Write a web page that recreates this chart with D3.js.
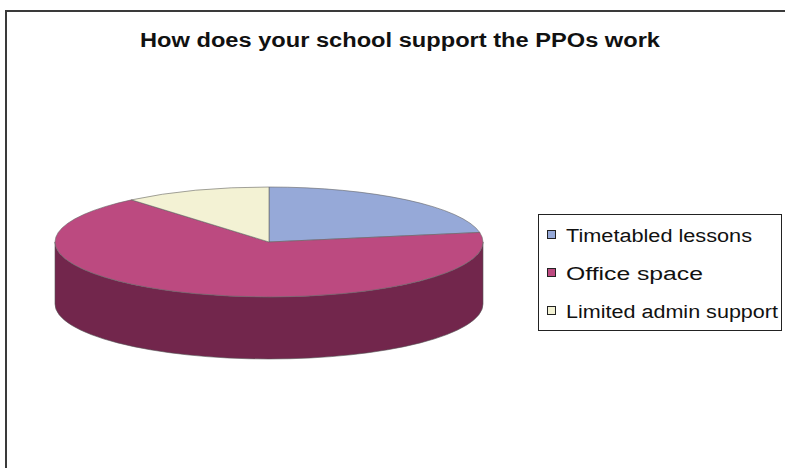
<!DOCTYPE html>
<html>
<head>
<meta charset="utf-8">
<script src="https://cdn.jsdelivr.net/npm/d3@7"></script>
<style>
  html, body { margin: 0; padding: 0; background: #fff; }
  svg { display: block; }
  text { font-family: "Liberation Sans", Arial, sans-serif; }
</style>
</head>
<body>
<script>
// Survey answers: how schools support the PPOs' work
const categories = ["Timetabled lessons", "Office space", "Limited admin support"];
const responses = [2, 6, 1];
const topColors = ["#96A9D8", "#BC4A80", "#F3F2D4"];
const sideColors = ["#5E6E99", "#72264C", "#B5B49A"];
const chartTitle = "How does your school support the PPOs work";

const W = 785, H = 468;
const svg = d3.select("body").append("svg").attr("width", W).attr("height", H);

// outer chart frame (runs off the right and bottom edges)
svg.append("rect")
  .attr("x", 6).attr("y", 11).attr("width", W + 20).attr("height", H + 20)
  .attr("fill", "#fff").attr("stroke", "#3a3a3a").attr("stroke-width", 2);

svg.append("text")
  .attr("x", 400).attr("y", 47)
  .attr("text-anchor", "middle")
  .attr("font-size", 20).attr("font-weight", "bold").attr("fill", "#111")
  .attr("textLength", 520).attr("lengthAdjust", "spacingAndGlyphs")
  .text(chartTitle);

// ---- tilted 3D pie ----
const cx = 269, cy = 242, rx = 214, ry = 55, depth = 62;
const pie = d3.pie().sort(null).value(d => d)
  .startAngle(0).endAngle(2 * Math.PI);
const arcs = pie(responses);

// angle measured clockwise from 12 o'clock, projected onto the ellipse
const px = a => cx + rx * Math.sin(a);
const py = (a, dz = 0) => cy - ry * Math.cos(a) + dz;

function topPath(d) {
  const a0 = d.startAngle, a1 = d.endAngle;
  const large = (a1 - a0) > Math.PI ? 1 : 0;
  return `M${cx},${cy}L${px(a0)},${py(a0)}A${rx},${ry} 0 ${large} 1 ${px(a1)},${py(a1)}Z`;
}

function sidePath(d) {
  // only the front half of the rim (angles between 90° and 270°) is visible
  const a0 = Math.max(d.startAngle, Math.PI / 2);
  const a1 = Math.min(d.endAngle, 3 * Math.PI / 2);
  if (a1 <= a0) return null;
  const large = (a1 - a0) > Math.PI ? 1 : 0;
  return `M${px(a0)},${py(a0)}A${rx},${ry} 0 ${large} 1 ${px(a1)},${py(a1)}` +
         `L${px(a1)},${py(a1, depth)}A${rx},${ry} 0 ${large} 0 ${px(a0)},${py(a0, depth)}Z`;
}

const pieG = svg.append("g");
pieG.selectAll("path.side")
  .data(arcs.filter(d => sidePath(d) !== null))
  .join("path").attr("class", "side")
  .attr("d", sidePath)
  .attr("fill", d => sideColors[d.index])
  .attr("stroke", "#555").attr("stroke-width", 0.6);

pieG.selectAll("path.top")
  .data(arcs)
  .join("path").attr("class", "top")
  .attr("d", topPath)
  .attr("fill", d => topColors[d.index])
  .attr("stroke", "#666").attr("stroke-width", 0.6)
  .attr("stroke-linejoin", "round");

// ---- legend ----
const lg = svg.append("g");
lg.append("rect")
  .attr("x", 538.5).attr("y", 214.5).attr("width", 243).attr("height", 116)
  .attr("fill", "#fff").attr("stroke", "#222").attr("stroke-width", 1);

const rowY = d3.scalePoint().domain(categories).range([242, 318]);
const legendWidths = [186, 137, 212];
const rows = lg.selectAll("g.row").data(categories).join("g").attr("class", "row");
rows.append("rect")
  .attr("x", 547.5).attr("y", d => rowY(d) - 11.5)
  .attr("width", 8).attr("height", 8)
  .attr("fill", (d, i) => topColors[i])
  .attr("stroke", "#222").attr("stroke-width", 1);
rows.append("text")
  .attr("x", 566).attr("y", d => rowY(d))
  .attr("font-size", 18).attr("fill", "#111")
  .attr("textLength", (d, i) => legendWidths[i]).attr("lengthAdjust", "spacingAndGlyphs")
  .text(d => d);
</script>
</body>
</html>
